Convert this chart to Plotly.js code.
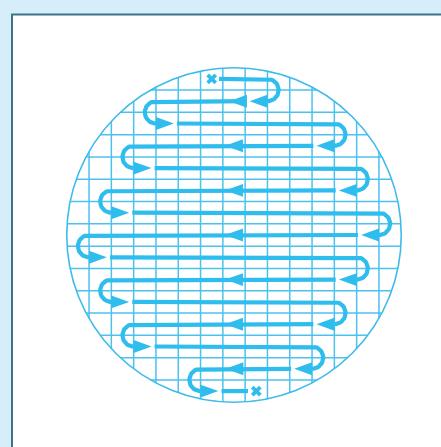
<!DOCTYPE html>
<html><head><meta charset="utf-8">
<script src="https://cdn.plot.ly/plotly-3.0.1.min.js"></script>
<style>html,body{margin:0;padding:0;background:#d6eef9;overflow:hidden}</style>
</head><body><div id="chart" style="width:441px;height:447px"></div>
<script>
// ---- data (grid units; one unit = one grid cell) ----
const rowY = [7, 6, 5, 4, 3, 2, 1, 0, -1, -2, -3, -4, -5, -6, -7];
const turnX = [1.5, -3.5, 4.5, -4.5, 5.5, -5.5, 6.5, -6.5, 5.5, -5.5, 4.5, -4.5, 3.5, -1.5];
const startX = -1;
const endX = 1;
const midArrowTip = [-0.22, -0.4, -0.4, -0.4, -0.4, -0.4, -0.38];
const gridPos = [-6.5, -5.5, -4.5, -3.5, -2.5, -1.5, -0.5, 0.5, 1.5, 2.5, 3.5, 4.5, 5.5, 6.5];
const circleR = 7.5;

// ---- styling ----
const BLUE = '#2fbdee';
const GRID = '#4cc1ee';
const PX = 22.3, CX = 234, CY = 235, W = 441, H = 447;
const ARROW_L = 0.8, ARROW_H = 0.29, GAP = 0.14, ARC_R = 0.5;

const traces = [];

// grid lines clipped to circle
const gx = [], gy = [];
gridPos.forEach(g => {
  const h = Math.sqrt(circleR * circleR - g * g);
  gx.push(g, g, null); gy.push(-h, h, null);
  gx.push(-h, h, null); gy.push(g, g, null);
});
traces.push({x: gx, y: gy, mode: 'lines', line: {color: GRID, width: 1.5}, hoverinfo: 'skip'});

// path
const px = [], py = [];
function arc(tx, y0) {
  const side = tx > 0 ? 1 : -1;
  for (let i = 0; i <= 24; i++) {
    const t = Math.PI * i / 24;
    px.push(tx + side * ARC_R * Math.sin(t));
    py.push(y0 - ARC_R + ARC_R * Math.cos(t));
  }
}
px.push(startX + 0.33, turnX[0]); py.push(rowY[0], rowY[0]);
arc(turnX[0], rowY[0]);
px.push(null); py.push(null);
for (let k = 1; k < rowY.length; k++) {
  const prev = turnX[k - 1];
  const dir = prev < 0 ? 1 : -1;
  const s = prev + dir * (ARROW_L + GAP);
  if (k < turnX.length) {
    px.push(s, turnX[k]); py.push(rowY[k], rowY[k]);
    arc(turnX[k], rowY[k]);
  } else {
    px.push(s, endX - 0.37); py.push(rowY[k], rowY[k]);
  }
  px.push(null); py.push(null);
}
traces.push({x: px, y: py, mode: 'lines', line: {color: BLUE, width: 4.2}, hoverinfo: 'skip'});

// arrowheads
function tri(base, tip, y) {
  traces.push({x: [base, tip, base, base], y: [y + ARROW_H, y, y - ARROW_H, y + ARROW_H],
    mode: 'lines', fill: 'toself', fillcolor: BLUE, line: {width: 0, color: BLUE}, hoverinfo: 'skip'});
}
for (let k = 1; k < rowY.length; k++) {
  const prev = turnX[k - 1];
  const dir = prev < 0 ? 1 : -1;
  tri(prev, prev + dir * ARROW_L, rowY[k]);
  if (dir < 0) {
    const tip = midArrowTip[(k - 1) / 2];
    tri(tip + ARROW_L, tip, rowY[k]);
  }
}

// start / end crosses
traces.push({x: [startX, endX], y: [rowY[0], rowY[rowY.length - 1]], mode: 'markers',
  marker: {symbol: 'x', size: 9.5, color: BLUE, line: {width: 0}}, hoverinfo: 'skip'});

const layout = {
  width: W, height: H,
  margin: {l: 0, r: 0, t: 0, b: 0},
  paper_bgcolor: '#d6eef9', plot_bgcolor: 'rgba(0,0,0,0)',
  showlegend: false,
  xaxis: {range: [(0 - CX) / PX, (W - CX) / PX], visible: false, fixedrange: true},
  yaxis: {range: [(CY - H) / PX, CY / PX], visible: false, fixedrange: true},
  shapes: [
    {type: 'rect', xref: 'paper', yref: 'paper', x0: 12 / W, x1: 1.05, y0: -0.05, y1: 1 - 14.5 / H,
      fillcolor: '#ffffff', line: {color: '#3a7687', width: 2}, layer: 'below'},
    {type: 'circle', xref: 'x', yref: 'y', x0: -circleR, x1: circleR, y0: -circleR, y1: circleR,
      line: {color: '#3dbbec', width: 1.6}, layer: 'above'}
  ]
};
Plotly.newPlot('chart', traces, layout, {staticPlot: true, displayModeBar: false});
</script></body></html>
